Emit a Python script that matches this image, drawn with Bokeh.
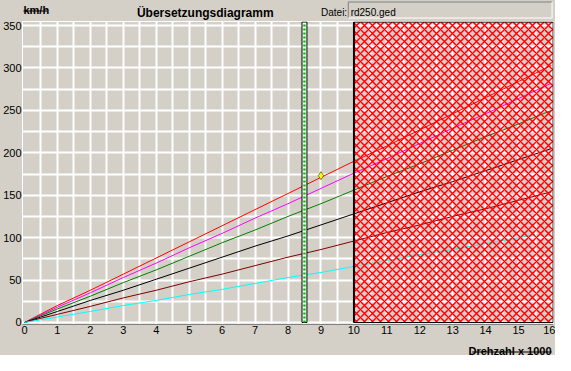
from bokeh.plotting import figure
from bokeh.models import Range1d, FixedTicker, Label
from bokeh.layouts import column
from bokeh.embed import file_html
from bokeh.resources import INLINE

# ---- data ----
rpm = [0, 0.5, 1, 2, 3, 4, 5, 6, 7, 8, 9, 10, 11, 12, 13, 14, 15, 16]
gear6 = [0, 10, 20, 38, 57, 76, 95, 114, 133, 152, 171, 190, 208, 227, 246, 265, 284, 303]
gear5 = [0, 9, 18, 35, 53, 70, 88, 105, 123, 140, 158, 176, 193, 211, 229, 246, 264, 282]
gear4 = [0, 8, 16, 31, 47, 62, 78, 94, 109, 125, 140, 156, 172, 187, 203, 219, 234, 250]
gear3 = [0, 6.5, 13, 26, 38, 51, 64, 77, 90, 102, 115, 128, 141, 154, 166, 179, 192, 205]
gear2 = [0, 5, 9.6, 19, 29, 38, 48, 57, 67, 77, 86, 96, 106, 115, 125, 134, 144, 154]
rpm1 = [0, 0.5, 1, 2, 3, 4, 5, 6, 7, 8, 9, 10, 11, 12, 13, 14, 15, 15.5]
gear1 = [0, 3.3, 6.5, 13, 20, 26, 33, 39, 46, 53, 59, 66, 73, 80, 86, 93, 100, 104]
gear_colors = ["#ff0000", "#ff00ff", "#008000", "#000000", "#800000", "#00ffff"]

marker_rpm = [9.0]
marker_kmh = [173]

shift_rpm = 8.5          # green marker bar
redline_from = 10        # hatched region start
redline_to = 16

x_ticks = list(range(0, 17))
y_ticks = [0, 50, 100, 150, 200, 250, 300, 350]

title_text = "Übersetzungsdiagramm"
unit_y = "km/h"
unit_x = "Drehzahl x 1000"
file_label = "Datei:"
file_name = "rd250.ged"

# ---- layout constants ----
BG = "#d4d0c8"
W = 555
H_HEAD, H_MAIN, H_FOOT = 21, 318, 16
FONT = "Liberation Sans"


def strip_fig(h):
    f = figure(width=W, height=h, x_range=Range1d(0, W), y_range=Range1d(h, 0),
               x_axis_type=None, y_axis_type=None, output_backend="svg",
               toolbar_location=None, title=None, min_border=0)
    f.background_fill_color = BG
    f.border_fill_color = BG
    f.outline_line_color = None
    f.xgrid.visible = False
    f.ygrid.visible = False
    return f


def put(f, text, x, y, align="left", bold=False, size="11px"):
    f.add_layout(Label(x=x, y=y, text=text, text_align=align, text_baseline="alphabetic",
                       text_font=FONT, text_font_size=size,
                       text_font_style="bold" if bold else "normal", text_color="black"))


# ---- header strip ----
head = strip_fig(H_HEAD)
put(head, unit_y, 1, 9.5, bold=True)
head.segment(x0=[1], y0=[10.5], x1=[26], y1=[10.5], line_color="black", line_width=1)
put(head, title_text, 191, 12, align="center", bold=True, size="12px")
put(head, file_label, 312, 12, size="10px")
head.segment(x0=[340.5, 340.5], y0=[1.5, 1.5], x1=[553.5, 340.5], y1=[1.5, 17.5],
             line_color="#808080", line_width=1)
head.segment(x0=[340.5, 553.5], y0=[17.5, 1.5], x1=[553.5, 553.5], y1=[17.5, 17.5],
             line_color="white", line_width=1)
put(head, file_name, 343, 12, size="10px")

# ---- main chart ----
p = figure(width=W, height=H_MAIN, x_range=Range1d(-0.0605, 16.0605),
           y_range=Range1d(-2.357, 354.714), output_backend="svg", toolbar_location=None,
           title=None, min_border_left=20, min_border_right=2, min_border_top=0,
           min_border_bottom=15)
p.background_fill_color = BG
p.border_fill_color = BG
p.outline_line_color = "white"
p.outline_line_width = 1

p.xgrid.ticker = FixedTicker(ticks=[i / 2 for i in range(1, 33)])
p.ygrid.ticker = FixedTicker(ticks=[25 * i for i in range(0, 15)])
for g in (p.xgrid, p.ygrid):
    g.grid_line_color = "white"
    g.grid_line_width = 2
    g.grid_line_alpha = 1

p.xaxis.ticker = FixedTicker(ticks=x_ticks)
p.yaxis.ticker = FixedTicker(ticks=y_ticks)
for ax in (p.xaxis, p.yaxis):
    ax.major_tick_line_color = None
    ax.minor_tick_line_color = None
    ax.major_tick_out = 0
    ax.major_tick_in = 0
    ax.major_label_text_font = FONT
    ax.major_label_text_font_size = "11px"
    ax.major_label_text_color = "black"
p.xaxis.axis_line_color = "#808080"
p.xaxis.major_label_standoff = 1
p.yaxis.axis_line_color = None
p.yaxis.major_label_standoff = 1

series = [(rpm, gear6), (rpm, gear5), (rpm, gear4), (rpm, gear3), (rpm, gear2), (rpm1, gear1)]
for (xs, ys), c in zip(series, gear_colors):
    p.line(xs, ys, line_color=c, line_width=1)

TOP = 354.1
p.quad(left=[shift_rpm - 0.075], right=[shift_rpm + 0.075], bottom=[0], top=[TOP],
       fill_color="white", line_color="black", line_width=1)
p.line([shift_rpm, shift_rpm], [0, TOP], line_color="#00c000", line_width=2.5,
       line_dash="2 2")

p.scatter(marker_rpm, marker_kmh, marker="diamond", size=8, fill_color="#ffff00",
          line_color="#606000", line_width=0.8)

p.quad(left=[redline_from], right=[redline_to + 0.05], bottom=[0], top=[TOP],
       fill_alpha=0, line_color="black", line_width=1,
       hatch_pattern="diagonal_cross", hatch_color="#ff0000", hatch_scale=8,
       hatch_weight=1.4)
p.line([redline_from, redline_from], [0, TOP], line_color="black", line_width=2)

# ---- footer strip ----
foot = strip_fig(H_FOOT)
put(foot, unit_x, 553, 11, align="right", bold=True)
foot.segment(x0=[470], y0=[12.5], x1=[553], y1=[12.5], line_color="black", line_width=1)

layout = column(head, p, foot, spacing=0)
layout.styles = {"background-color": BG}

open("out.html", "w").write(file_html(layout, INLINE))
